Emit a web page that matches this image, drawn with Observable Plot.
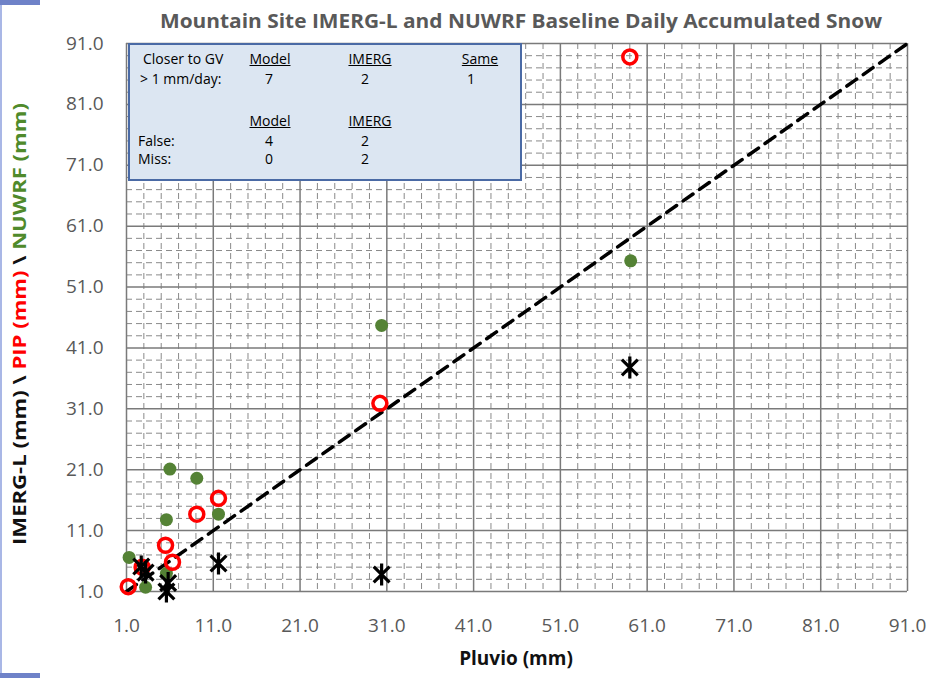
<!DOCTYPE html>
<html>
<head>
<meta charset="utf-8">
<script src="https://cdn.jsdelivr.net/npm/d3@7"></script>
<script src="https://cdn.jsdelivr.net/npm/@observablehq/plot@0.6"></script>
<style>
  body { margin: 0; background: #fff; }
  #chart { position: relative; width: 932px; height: 678px; overflow: hidden; font-family: "Open Sans", sans-serif; }
  #chart svg { position: absolute; left: 0; top: 0; }
  .edge { position: absolute; background: #a9b7e6; }
  .edge.block { background: #6f82c8; }
  #stats { position: absolute; left: 128px; top: 43px; width: 390px; height: 134px;
           background: #dce6f2; border: 2px solid #4a6aa5; }
  #stats div { position: absolute; font-size: 14px; color: #000; white-space: nowrap; line-height: 1; }
  #stats div.h { text-decoration: underline; }
</style>
</head>
<body>
<div id="chart"></div>
<script>
// Daily accumulated snow at the mountain site (mm), paired with the Pluvio gauge total
const pluvioNuwrf = [59.1, 30.4, 6.0, 9.1, 5.6, 11.6, 1.3, 3.2, 5.6];
const nuwrf       = [55.3, 44.7, 21.1, 19.6, 12.8, 13.7, 6.6, 1.7, 4.0];

const pluvioPip = [59.0, 30.2, 11.6, 9.1, 5.5, 6.3, 2.8, 1.2];
const pip       = [88.8, 31.9, 16.3, 13.7, 8.6, 5.8, 5.0, 1.8];

const pluvioImerg = [59.0, 30.4, 11.6, 2.7, 3.2, 5.6, 5.8];
const imerg       = [37.8, 3.8, 5.6, 5.1, 4.1, 1.0, 2.4];

// Axis ticks (mm) and the 1:1 reference line
const tickValues = [1, 11, 21, 31, 41, 51, 61, 71, 81, 91];
const minorValues = d3.range(1, 92, 2).filter(v => !tickValues.includes(v));
const oneToOne = [1, 91];

// Summary table
const closerLabel = ["Closer to GV", "> 1 mm/day:"];
const closerHeaders = ["Model", "IMERG", "Same"];
const closerCounts = [7, 2, 1];
const errorHeaders = ["Model", "IMERG"];
const falseCounts = [4, 2];
const missCounts = [0, 2];

const titleText = "Mountain Site IMERG-L and NUWRF Baseline Daily Accumulated Snow";
const xLabel = "Pluvio (mm)";
const yLabelParts = [
  {text: "IMERG-L (mm) \\ ", color: "#111"},
  {text: "PIP (mm)", color: "#ff0000"},
  {text: " \\ ", color: "#111"},
  {text: "NUWRF (mm)", color: "#4f8a2b"}
];

const green = "#548235";

// Asterisk marker: an X crossed by a vertical bar
const star = {
  draw(context, size) {
    const r = Math.sqrt(size / Math.PI);
    const d = r * 0.72;
    context.moveTo(-d, -d); context.lineTo(d, d);
    context.moveTo(d, -d); context.lineTo(-d, d);
    context.moveTo(0, -r); context.lineTo(0, r);
  }
};

const fmt = d => d.toFixed(1);
const grid = {stroke: "#8a8a8a", strokeWidth: 1, strokeDasharray: "6,4", strokeOpacity: 1};
const major = {stroke: "#7a7a7a", strokeWidth: 1.5, strokeOpacity: 1};

const plot = Plot.plot({
  width: 932,
  height: 678,
  marginLeft: 126,
  marginRight: 25,
  marginTop: 43,
  marginBottom: 87,
  style: {fontFamily: "'Open Sans', sans-serif", background: "transparent", overflow: "visible"},
  x: {domain: [1, 91]},
  y: {domain: [1, 91]},
  marks: [
    Plot.ruleX(minorValues, grid),
    Plot.ruleY(minorValues, grid),
    Plot.ruleX(tickValues, major),
    Plot.ruleY(tickValues, major),
    Plot.axisX({ticks: tickValues, tickFormat: fmt, tickSize: 0, tickPadding: 27, fontSize: 19, fill: "#595959", label: null}),
    Plot.axisY({ticks: tickValues, tickFormat: fmt, tickSize: 0, tickPadding: 23, fontSize: 19, fill: "#595959", label: null}),
    Plot.line(oneToOne, {x: d => d, y: d => d, stroke: "#000", strokeWidth: 3.5, strokeDasharray: "12,8"}),
    Plot.dot(d3.zip(pluvioNuwrf, nuwrf), {x: "0", y: "1", r: 6.5, fill: green, stroke: "none"}),
    Plot.dot(d3.zip(pluvioPip, pip), {x: "0", y: "1", r: 7, fill: "none", stroke: "#ff0000", strokeWidth: 3.5}),
    Plot.dot(d3.zip(pluvioImerg, imerg), {x: "0", y: "1", r: 11, symbol: star, fill: "none", stroke: "#000", strokeWidth: 3.2})
  ]
});

const chart = document.getElementById("chart");
chart.appendChild(plot);

// Title and axis titles
const svg = d3.select(plot);
svg.append("text")
  .attr("x", 521).attr("y", 21).attr("dy", "0.35em")
  .attr("text-anchor", "middle")
  .attr("font-size", 20).attr("font-weight", "bold").attr("fill", "#595959")
  .attr("textLength", 722).attr("lengthAdjust", "spacingAndGlyphs")
  .text(titleText);

svg.append("text")
  .attr("x", 516).attr("y", 658).attr("dy", "0.35em")
  .attr("text-anchor", "middle")
  .attr("font-size", 19).attr("font-weight", "bold").attr("fill", "#111")
  .text(xLabel);

const yl = svg.append("text")
  .attr("transform", "translate(20,324) rotate(-90)")
  .attr("dy", "0.35em")
  .attr("text-anchor", "middle")
  .attr("font-size", 18).attr("font-weight", "bold")
  .attr("textLength", 442).attr("lengthAdjust", "spacingAndGlyphs");
yLabelParts.forEach(p => yl.append("tspan").attr("fill", p.color).text(p.text));

// Summary table overlay
const stats = document.createElement("div");
stats.id = "stats";
chart.appendChild(stats);
function put(text, left, top, center, header) {
  const el = document.createElement("div");
  el.textContent = text;
  if (header) el.className = "h";
  el.style.left = left + "px";
  el.style.top = top + "px";
  el.style.transform = center ? "translate(-50%, -50%)" : "translate(0, -50%)";
  stats.appendChild(el);
}
const cols = [140, 240, 350];
put(closerLabel[0], 13, 14, false, false);
put(closerLabel[1], 10, 34, false, false);
closerHeaders.forEach((h, i) => put(h, cols[i], 14, true, true));
closerCounts.forEach((v, i) => put(String(v), cols[i] - [1, 5, 9][i], 34, true, false));
errorHeaders.forEach((h, i) => put(h, cols[i], 76, true, true));
put("False:", 8, 96, false, false);
put("Miss:", 8, 114, false, false);
falseCounts.forEach((v, i) => put(String(v), cols[i] - [1, 5][i], 96, true, false));
missCounts.forEach((v, i) => put(String(v), cols[i] - [1, 5][i], 114, true, false));

// Left border strip
[[0, 0, 2, 678, ""], [0, 0, 40, 5, " block"], [0, 673, 40, 5, " block"]].forEach(([l, t, w, h, c]) => {
  const e = document.createElement("div");
  e.className = "edge" + c;
  Object.assign(e.style, {left: l + "px", top: t + "px", width: w + "px", height: h + "px"});
  chart.appendChild(e);
});
</script>
</body>
</html>
